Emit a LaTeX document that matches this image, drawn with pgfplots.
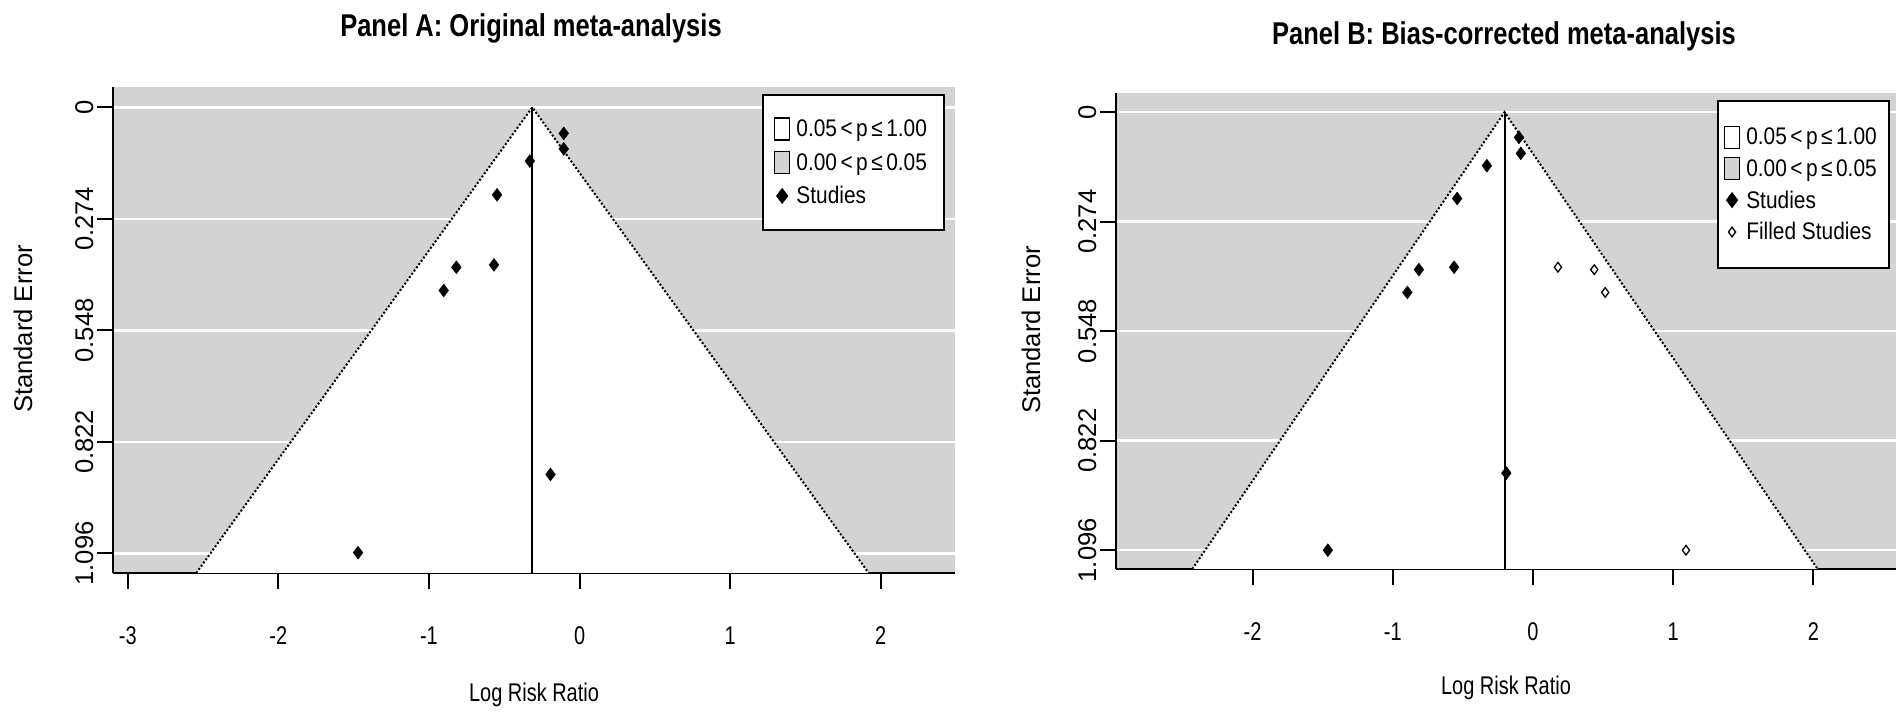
\documentclass[border=0pt]{standalone}
\usepackage{pgfplots}
\pgfplotsset{compat=1.18}
\usepackage{fontspec}
\setmainfont{Liberation Sans}
\usepackage{graphicx}
\newcommand\sq[1]{\scalebox{0.78}[1]{#1}}
\newcommand\sql[1]{\scalebox{0.87}[1]{#1}}
\definecolor{bg}{HTML}{D3D3D3}
\pgfplotsset{
  funnel/.style={
    scale only axis,
    axis background/.style={fill=bg},
    axis x line*=bottom, axis y line*=left,
    axis line style={line width=2.2pt, black},
    tick align=outside, major tick length=16pt,
    tick style={line width=2pt, black},
    ytick={0,-0.274,-0.548,-0.822,-1.096},
    yticklabels={0,0.274,0.548,0.822,1.096},
    ymajorgrids, grid style={white, line width=2.5pt},
    ticklabel style={font=\fontsize{25.6}{30}\selectfont},
    xticklabel style={yshift=-34pt},
    yticklabel style={rotate=90, anchor=south},
    label style={font=\fontsize{25.6}{30}\selectfont},
    legend cell align=left,
    legend style={draw=black, line width=2pt, fill=white,
      font=\fontsize{24}{28}\selectfont, inner xsep=11pt, inner ysep=22pt,
      row sep=9pt, nodes={inner ysep=3pt, inner xsep=6pt}},
    legend image code/.code={\draw[mark repeat=2,mark phase=2,#1] plot coordinates {(0pt,0pt) (7.5pt,0pt) (15pt,0pt)};},
  },
  boxw/.style={legend image code/.code={\draw[line width=1.5pt, fill=white] (0pt,-11pt) rectangle (15pt,11pt);}},
  boxg/.style={legend image code/.code={\draw[line width=1.5pt, fill=bg] (0pt,-11pt) rectangle (15pt,11pt);}},
  study/.style={only marks, mark=diamond*, mark size=6.5pt, mark options={fill=black, draw=black}},
  filled/.style={only marks, mark=diamond, mark size=4.8pt, mark options={fill=white, draw=black, line width=1.3pt}},
}
\begin{document}
\begin{tikzpicture}
\useasboundingbox (0pt,0pt) rectangle (1904pt,712pt);
\node[font=\bfseries\fontsize{31.5}{36}\selectfont] at (531pt,684pt) {\scalebox{0.81}[1]{Panel A: Original meta-analysis}};
\node[font=\bfseries\fontsize{31.5}{36}\selectfont] at (1504pt,676pt) {\scalebox{0.81}[1]{Panel B: Bias-corrected meta-analysis}};
% Panel A
\begin{axis}[funnel, at={(113pt,139pt)}, anchor=south west,
  width=842pt, height=486pt,
  xmin=-3.098, xmax=2.493, ymin=-1.144, ymax=0.050,
  xtick={-3,-2,-1,0,1,2},
  xticklabels={\sq{-3},\sq{-2},\sq{-1},\sq{0},\sq{1},\sq{2}},
  xlabel={\sq{Log Risk Ratio}}, ylabel={Standard Error},
  xlabel style={at={(axis description cs:0.5,-0.251)}, anchor=center},
  ylabel style={at={(axis description cs:-0.107,0.502)}, anchor=center},
  legend style={at={(0.988,0.9856)}, anchor=north east}]
\addplot[fill=white, draw=none, forget plot] coordinates {(-0.314,0) (-2.545,-1.144) (1.92,-1.144)} --cycle;
\addplot[black, dotted, line width=2pt, forget plot] coordinates {(-2.545,-1.144) (-0.314,0) (1.92,-1.144)};
\addplot[black, line width=2pt, forget plot] coordinates {(-0.314,0) (-0.314,-1.144)};
\addlegendimage{boxw}\addlegendentry{\sql{0.05\,<\,p\,≤\,1.00}}
\addlegendimage{boxg}\addlegendentry{\sql{0.00\,<\,p\,≤\,0.05}}
\addplot[study] coordinates {(-0.105,-0.064) (-0.105,-0.102) (-0.330,-0.132) (-0.548,-0.215) (-0.568,-0.387) (-0.818,-0.393) (-0.902,-0.450) (-0.193,-0.902) (-1.471,-1.094)};
\addlegendentry{\sql{Studies}}
\end{axis}
% Panel B
\begin{axis}[funnel, at={(1116pt,143pt)}, anchor=south west,
  width=780pt, height=476pt,
  xmin=-2.974, xmax=2.589, ymin=-1.143, ymax=0.048,
  xtick={-2,-1,0,1,2},
  xticklabels={\sq{-2},\sq{-1},\sq{0},\sq{1},\sq{2}},
  xlabel={\sq{Log Risk Ratio}}, ylabel={Standard Error},
  xlabel style={at={(axis description cs:0.5,-0.25)}, anchor=center},
  ylabel style={at={(axis description cs:-0.109,0.502)}, anchor=center},
  legend style={at={(0.992,0.985)}, anchor=north east, row sep=7pt, inner xsep=6pt, inner ysep=24pt}]
\addplot[fill=white, draw=none, forget plot] coordinates {(-0.203,0) (-2.43,-1.143) (2.03,-1.143)} --cycle;
\addplot[black, dotted, line width=2pt, forget plot] coordinates {(-2.43,-1.143) (-0.203,0) (2.03,-1.143)};
\addplot[black, line width=2pt, forget plot] coordinates {(-0.203,0) (-0.203,-1.143)};
\addlegendimage{boxw}\addlegendentry{\sql{0.05\,<\,p\,≤\,1.00}}
\addlegendimage{boxg}\addlegendentry{\sql{0.00\,<\,p\,≤\,0.05}}
\addplot[study] coordinates {(-0.100,-0.063) (-0.087,-0.103) (-0.329,-0.134) (-0.541,-0.216) (-0.563,-0.388) (-0.814,-0.394) (-0.896,-0.451) (-0.190,-0.903) (-1.463,-1.096)};
\addlegendentry{\sql{Studies}}
\addplot[filled] coordinates {(0.178,-0.388) (0.437,-0.394) (0.515,-0.451) (1.091,-1.096)};
\addlegendentry{\sql{Filled Studies}}
\end{axis}
\end{tikzpicture}
\end{document}
